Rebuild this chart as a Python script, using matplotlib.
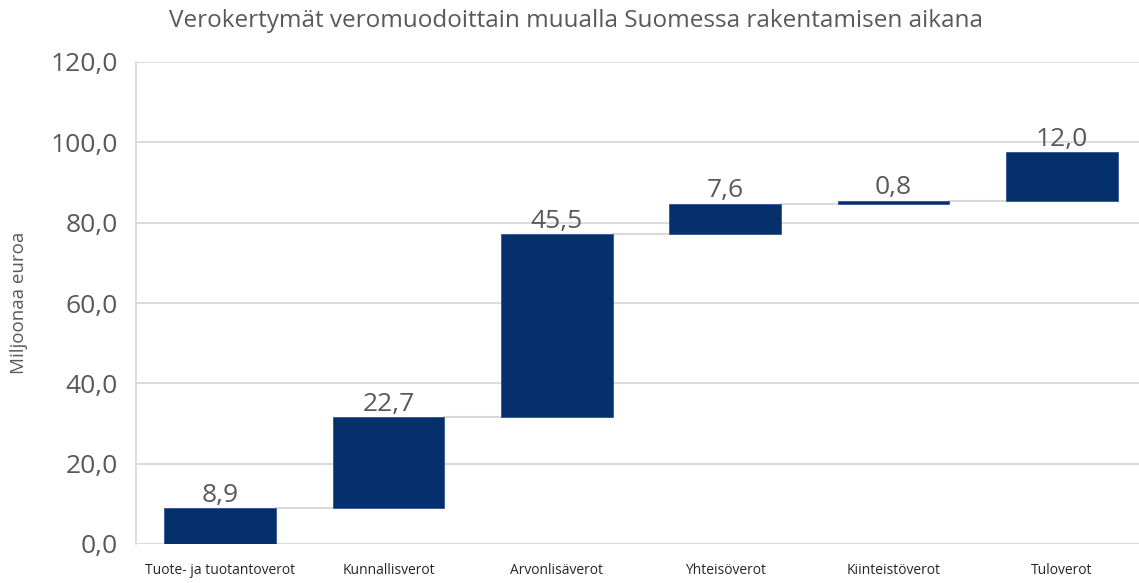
import matplotlib
matplotlib.use("Agg")
import matplotlib.pyplot as plt
import numpy as np

categories = ["Tuote- ja tuotantoverot", "Kunnallisverot", "Arvonlisäverot",
              "Yhteisöverot", "Kiinteistöverot", "Tuloverot"]
values = [8.9, 22.7, 45.5, 7.6, 0.8, 12.0]
yticks = [0, 20, 40, 60, 80, 100, 120]
title = "Verokertymät veromuodoittain muualla Suomessa rakentamisen aikana"
ylabel = "Miljoonaa euroa"

plt.rcParams['font.family'] = ['Open Sans', 'DejaVu Sans']
W, H = 1139, 583
fig = plt.figure(figsize=(W/100, H/100), dpi=100)
ax = fig.add_axes([136/W, 39/H, 1010/W, 482/H])

vals = np.array(values)
tops = np.cumsum(vals)
bottoms = tops - vals
x = np.arange(len(categories))
bw = 0.665
navy = "#05306b"
grid_c = "#d9d9d9"
text_c = "#595959"

ax.set_ylim(0, 120)
ax.set_xlim(-0.5, len(categories) - 0.5)
ax.set_yticks(yticks)
ax.set_yticklabels([f"{v:.1f}".replace(".", ",") for v in yticks], fontsize=19, color=text_c)
ax.yaxis.grid(True, color=grid_c, linewidth=1.3)
ax.set_axisbelow(True)
for s in ["top", "right", "bottom"]:
    ax.spines[s].set_visible(False)
ax.spines["left"].set_color(grid_c)
ax.spines["left"].set_linewidth(1.3)
ax.tick_params(axis="y", length=0, pad=13)
ax.tick_params(axis="x", length=0, pad=14)
ax.set_xticks(x)
ax.set_xticklabels(categories, fontsize=10, color="#262626")

for i in range(len(vals) - 1):
    ax.plot([x[i] + bw/2, x[i+1] - bw/2], [tops[i], tops[i]], color=grid_c, linewidth=1.5, zorder=1)

ax.bar(x, vals, bottom=bottoms, width=bw, color=navy, edgecolor="#2f5597", linewidth=0.6, zorder=2)

for xi, t, v in zip(x, tops, vals):
    ax.text(xi, t + 0.1, f"{v:.1f}".replace(".", ","), ha="center", va="bottom", fontsize=19, color=text_c)

ax.set_ylabel(ylabel, fontsize=13.5, color=text_c)
ax.yaxis.set_label_coords(-108/1010, 0.5)
fig.text(576/W, 1 - 21/H, title, ha="center", va="center", fontsize=17.5, color=text_c)

fig.savefig("out.png", dpi=100)
